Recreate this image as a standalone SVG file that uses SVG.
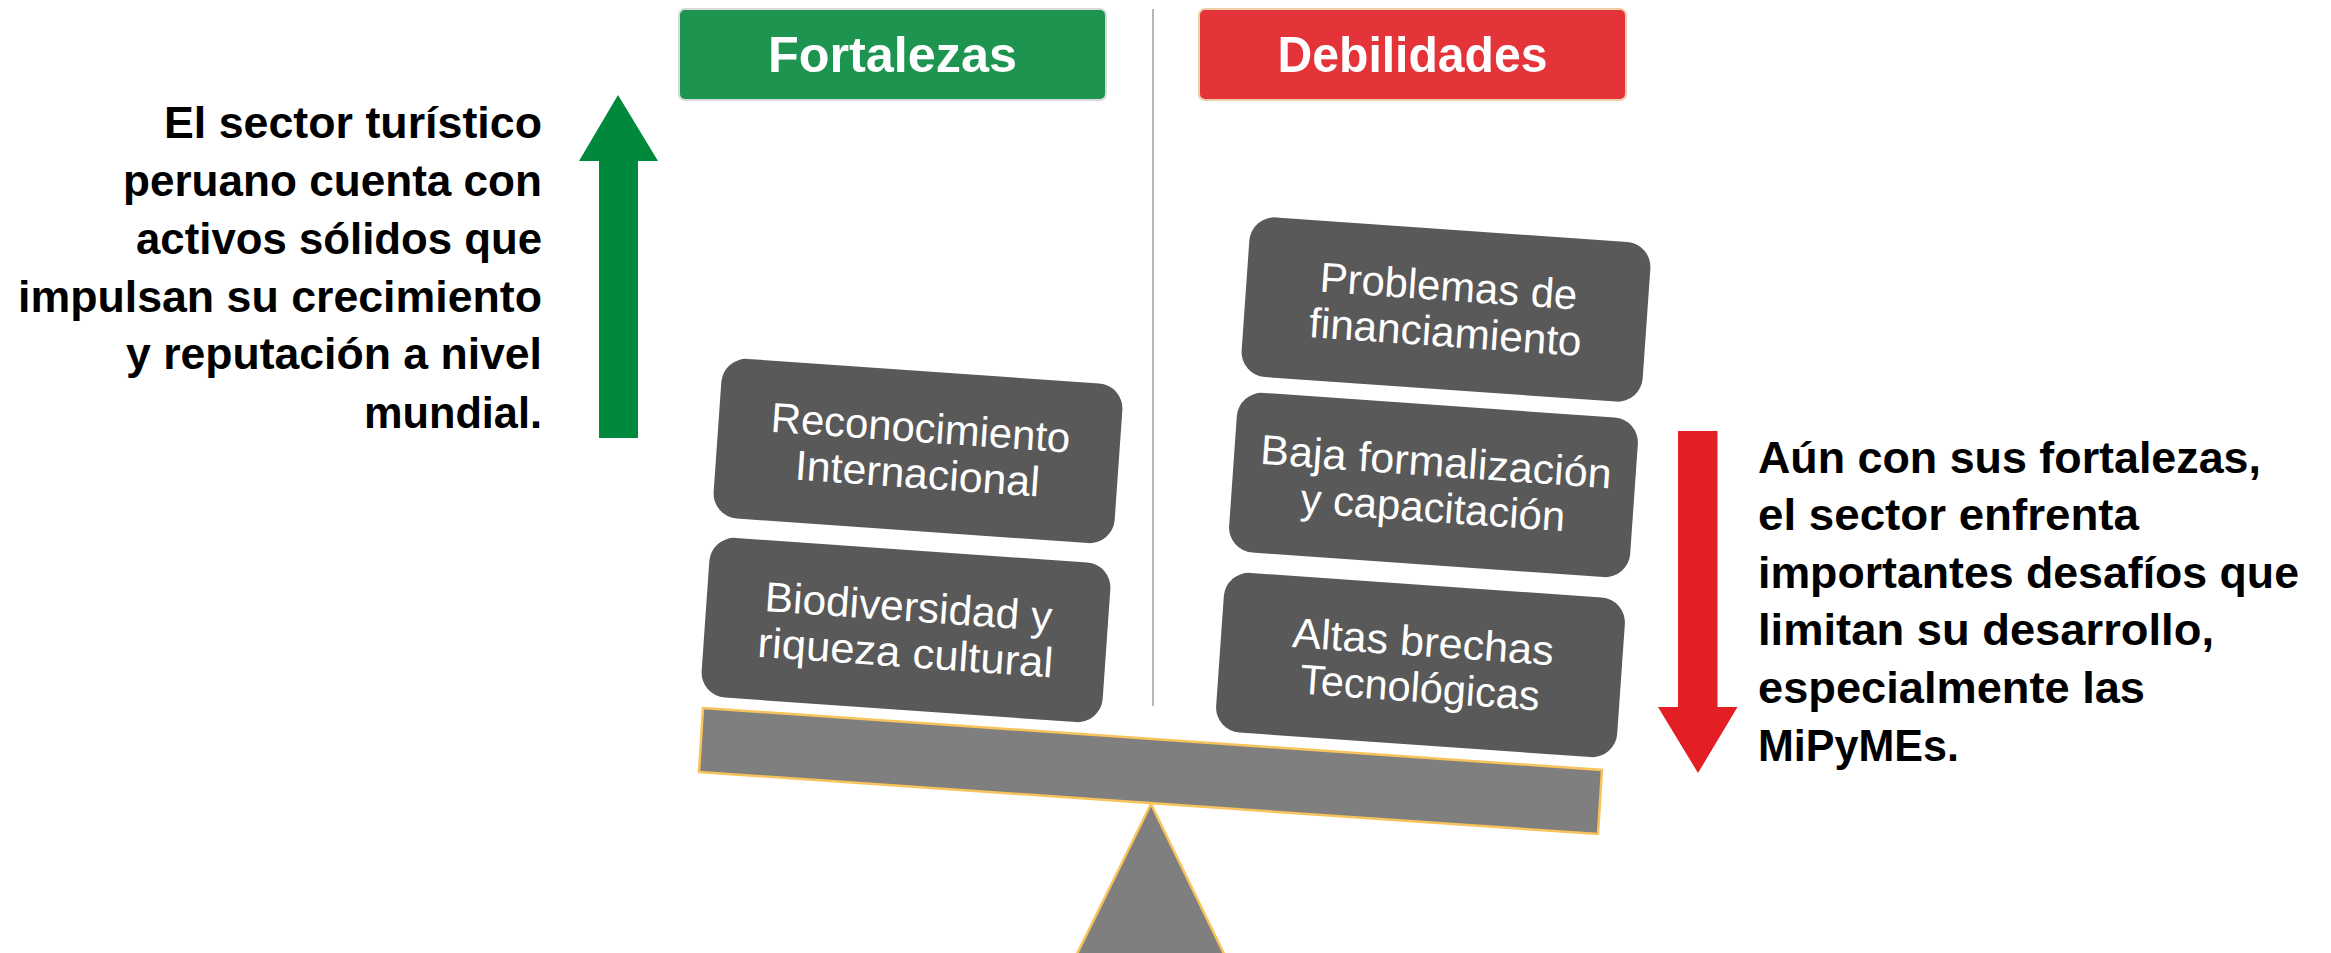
<svg xmlns="http://www.w3.org/2000/svg" width="2331" height="953" viewBox="0 0 2331 953">
<defs>
<style>
.bg{fill:#ffffff}
.side{font-family:"Liberation Sans",Arial,sans-serif;font-weight:bold;font-size:44px;fill:#000000}
.hdr{font-family:"Liberation Sans",Arial,sans-serif;font-weight:bold;font-size:50px;fill:#ffffff;text-anchor:middle}
.card rect{fill:#595959}
.card text{font-family:"Liberation Sans",Arial,sans-serif;font-size:42px;fill:#ffffff;text-anchor:middle}
.wood{fill:#7f7f7f;stroke:#f8c35a;stroke-width:2.5;stroke-linejoin:miter}
</style>
</defs>
<rect class="bg" x="0" y="0" width="2331" height="953"/>

<g id="connectors">
  <line x1="1153" y1="9" x2="1153" y2="706" stroke="#a6a6a6" stroke-width="1.6"/>
  <polygon id="arrow-up" points="618,95 658,161 638,161 638,438 599,438 599,161 579,161" fill="#00883c"/>
  <polygon id="arrow-down" points="1678,431 1717.5,431 1717.5,707 1737.5,707 1698,773 1658,707 1678,707" fill="#e31e24"/>
</g>

<g id="text-left">
  <text class="side" text-anchor="end" x="542" y="138" textLength="378" lengthAdjust="spacingAndGlyphs">El sector turístico</text>
  <text class="side" text-anchor="end" x="542" y="196" textLength="419" lengthAdjust="spacingAndGlyphs">peruano cuenta con</text>
  <text class="side" text-anchor="end" x="542" y="254" textLength="406" lengthAdjust="spacingAndGlyphs">activos sólidos que</text>
  <text class="side" text-anchor="end" x="542" y="312" textLength="524" lengthAdjust="spacingAndGlyphs">impulsan su crecimiento</text>
  <text class="side" text-anchor="end" x="542" y="369" textLength="416" lengthAdjust="spacingAndGlyphs">y reputación a nivel</text>
  <text class="side" text-anchor="end" x="542" y="428" textLength="178" lengthAdjust="spacingAndGlyphs">mundial.</text>
</g>

<g id="text-right">
  <text class="side" x="1758" y="473" textLength="503" lengthAdjust="spacingAndGlyphs">Aún con sus fortalezas,</text>
  <text class="side" x="1758" y="530" textLength="381" lengthAdjust="spacingAndGlyphs">el sector enfrenta</text>
  <text class="side" x="1758" y="588" textLength="541" lengthAdjust="spacingAndGlyphs">importantes desafíos que</text>
  <text class="side" x="1758" y="645" textLength="456" lengthAdjust="spacingAndGlyphs">limitan su desarrollo,</text>
  <text class="side" x="1758" y="703" textLength="387" lengthAdjust="spacingAndGlyphs">especialmente las</text>
  <text class="side" x="1758" y="761" textLength="201" lengthAdjust="spacingAndGlyphs">MiPyMEs.</text>
</g>

<g id="hdr-fortalezas">
  <rect x="679" y="9" width="427" height="91" rx="6" fill="#1d9550" stroke="#d9d9d9" stroke-width="2"/>
  <text class="hdr" x="892.5" y="72" textLength="249" lengthAdjust="spacingAndGlyphs">Fortalezas</text>
</g>
<g id="hdr-debilidades">
  <rect x="1199" y="9" width="427" height="91" rx="6" fill="#e5333a" stroke="#ebcfa8" stroke-width="2"/>
  <text class="hdr" x="1412.5" y="72" textLength="270" lengthAdjust="spacingAndGlyphs">Debilidades</text>
</g>

<g id="n-reconocimiento" class="card" transform="translate(918,451) rotate(4)">
  <rect x="-201" y="-80" width="402" height="160" rx="25"/>
  <text x="1" y="-9" textLength="300" lengthAdjust="spacingAndGlyphs">Reconocimiento</text>
  <text x="1" y="37" textLength="245" lengthAdjust="spacingAndGlyphs">Internacional</text>
</g>
<g id="n-biodiversidad" class="card" transform="translate(906,630) rotate(4)">
  <rect x="-201" y="-80" width="402" height="160" rx="25"/>
  <text x="1" y="-9" textLength="288" lengthAdjust="spacingAndGlyphs">Biodiversidad y</text>
  <text x="1" y="37" textLength="296" lengthAdjust="spacingAndGlyphs">riqueza cultural</text>
</g>
<g id="n-problemas" class="card" transform="translate(1446,309.5) rotate(4)">
  <rect x="-201" y="-80" width="402" height="160" rx="25"/>
  <text x="1" y="-9" textLength="258" lengthAdjust="spacingAndGlyphs">Problemas de</text>
  <text x="1" y="37" textLength="273" lengthAdjust="spacingAndGlyphs">financiamiento</text>
</g>
<g id="n-baja" class="card" transform="translate(1433.5,485) rotate(4)">
  <rect x="-201" y="-80" width="402" height="160" rx="25"/>
  <text x="1" y="-9" textLength="352" lengthAdjust="spacingAndGlyphs">Baja formalización</text>
  <text x="1" y="37" textLength="265" lengthAdjust="spacingAndGlyphs">y capacitación</text>
</g>
<g id="n-altas" class="card" transform="translate(1420.5,665) rotate(4)">
  <rect x="-201" y="-80" width="402" height="160" rx="25"/>
  <text x="1" y="-9" textLength="262" lengthAdjust="spacingAndGlyphs">Altas brechas</text>
  <text x="1" y="37" textLength="240" lengthAdjust="spacingAndGlyphs">Tecnológicas</text>
</g>

<g id="balance">
  <polygon id="fulcrum" class="wood" points="1151,804 1227,960 1074,960"/>
  <polygon id="plank" class="wood" points="703,708 1602,770 1598,834 699,772"/>
</g>
</svg>
